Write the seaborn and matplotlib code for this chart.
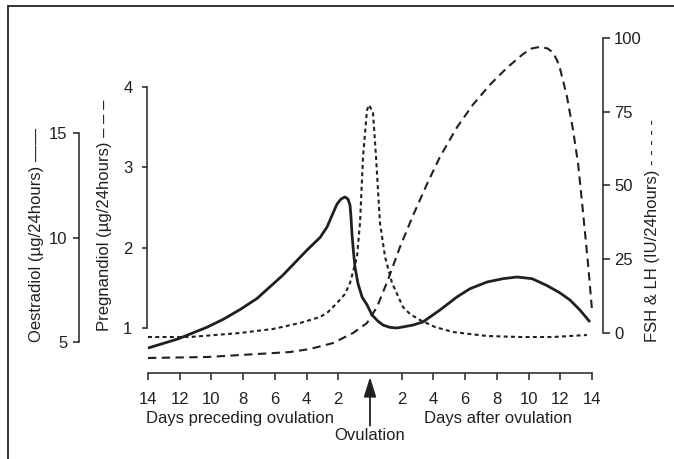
import matplotlib
matplotlib.use('Agg')
import matplotlib.pyplot as plt
from matplotlib.lines import Line2D
import seaborn as sns

# Days relative to ovulation (negative = before ovulation)
oestradiol_days = [-14.0, -12.1, -11.35, -10.3, -9.27, -8.2, -7.13, -5.49, -3.97, -3.15,
                   -2.71, -2.33, -2.08, -1.83, -1.58, -1.39, -1.26, -1.2, -1.14, -1.04,
                   -0.95, -0.76, -0.50, -0.19, 0.13, 0.50, 0.82, 1.26, 1.70, 2.71,
                   3.34, 4.41, 5.49, 6.31, 7.38, 8.39, 9.27, 10.22, 11.16, 11.98,
                   12.61, 13.24, 13.87]
oestradiol = [4.71, 5.15, 5.38, 5.70, 6.08, 6.55, 7.08, 8.20, 9.40, 10.00,
              10.50, 11.17, 11.60, 11.84, 11.94, 11.84, 11.55, 11.00, 10.20, 9.30,
              8.60, 7.80, 7.15, 6.78, 6.29, 6.00, 5.81, 5.70, 5.67, 5.81,
              5.96, 6.53, 7.16, 7.55, 7.87, 8.03, 8.11, 8.03, 7.70, 7.35,
              7.01, 6.53, 5.96]

pregnandiol_days = [-14.0, -10.28, -7.13, -5.04, -3.78, -2.33, -1.07, -0.19, 0.44, 1.13,
                    1.89, 2.71, 3.59, 4.41, 5.49, 6.49, 7.57, 8.64, 9.65, 10.2,
                    10.72, 11.2, 11.54, 11.8, 11.98, 12.2, 12.42, 12.80, 13.12, 13.43,
                    13.75, 14.0]
pregnandiol = [0.627, 0.639, 0.676, 0.701, 0.739, 0.813, 0.938, 1.062, 1.261, 1.598,
               2.008, 2.400, 2.790, 3.130, 3.500, 3.780, 4.030, 4.240, 4.410, 4.480,
               4.500, 4.480, 4.430, 4.330, 4.230, 4.060, 3.880, 3.470, 3.050, 2.450,
               1.800, 1.224]

# FSH & LH
gonad_days = [-14.0, -11.35, -8.20, -6.12, -4.41, -3.15, -2.65, -2.08, -1.58, -1.26,
              -0.82, -0.63, -0.44, -0.19, -0.05, 0.19, 0.38, 0.63, 0.95, 1.39,
              2.08, 2.52, 3.15, 4.10, 5.23, 7.38, 9.46, 11.54, 13.68]
gonad = [-1.36, -1.36, 0.0, 1.36, 3.39, 5.42, 7.10, 10.17, 13.20, 16.95,
         25.76, 37.29, 59.66, 75.59, 77.29, 74.58, 59.66, 37.29, 25.76, 16.95,
         8.81, 6.44, 4.41, 2.03, 0.34, -1.02, -1.36, -1.36, -0.68]

x_ticks = [-14, -12, -10, -8, -6, -4, -2, 2, 4, 6, 8, 10, 12, 14]
x_tick_labels = ['14', '12', '10', '8', '6', '4', '2', '2', '4', '6', '8', '10', '12', '14']
oes_ticks = [5, 10, 15]
preg_ticks = [1, 2, 3, 4]
gonad_ticks = [0, 25, 50, 75, 100]

ink = '#231f20'
sns.set_theme(style='ticks')
plt.rcParams['font.family'] = ['Liberation Sans', 'DejaVu Sans']
plt.rcParams['font.size'] = 12
plt.rcParams['text.color'] = ink
plt.rcParams['xtick.color'] = ink
plt.rcParams['ytick.color'] = ink

W, H = 674, 459
fig = plt.figure(figsize=(W / 100, H / 100), dpi=100)
fig.patch.set_facecolor('white')


def fx(px):
    return px / W


def fy(py):
    return 1 - py / H


ax = fig.add_axes([fx(148), fy(373), (592 - 148) / W, (373 - 30) / H])
ax2 = ax.twinx()
ax3 = ax.twinx()
for a in (ax, ax2, ax3):
    a.set_facecolor('none')
    for s in a.spines.values():
        s.set_visible(False)
        s.set_color(ink)
        s.set_linewidth(1.1)

# curves
sns.lineplot(x=oestradiol_days, y=oestradiol, ax=ax, color=ink, linewidth=2.0,
             estimator=None, sort=False)
sns.lineplot(x=pregnandiol_days, y=pregnandiol, ax=ax2, color=ink, linewidth=1.5,
             estimator=None, sort=False)
ax2.lines[-1].set_linestyle((0, (4.0, 2.6)))
sns.lineplot(x=gonad_days, y=gonad, ax=ax3, color=ink, linewidth=1.5,
             estimator=None, sort=False)
ax3.lines[-1].set_linestyle((0, (1.9, 1.6)))
for a in (ax, ax2, ax3):
    for ln in a.lines:
        ln.set_clip_on(False)
        ln.set_solid_capstyle('butt')
        ln.set_solid_joinstyle('round')

ax.set_xlim(-14, 14)
ax.set_ylim(3.517, 19.928)
ax2.set_ylim(0.440, 4.710)
ax3.set_ylim(-13.56, 102.7)

# x axis
ax.spines['bottom'].set_visible(True)
ax.spines['bottom'].set_bounds(-14, 14)
ax.set_xticks(x_ticks, x_tick_labels)
ax.tick_params(axis='x', direction='out', length=5, width=1.1, pad=9, labelsize=12)

# oestradiol axis
ax.spines['left'].set_visible(True)
ax.spines['left'].set_position(('axes', (79 - 148) / 444))
ax.spines['left'].set_bounds(5, 15)
ax.set_yticks(oes_ticks)
ax.tick_params(axis='y', direction='out', length=4.5, width=1.1, pad=4, labelsize=12)

# pregnandiol axis
ax2.yaxis.tick_left()
ax2.spines['left'].set_visible(True)
ax2.spines['left'].set_position(('axes', -1 / 444))
ax2.spines['left'].set_bounds(1, 4)
ax2.set_yticks(preg_ticks)
ax2.tick_params(axis='y', direction='out', length=3.5, width=1.1, pad=7, labelsize=12)

# FSH & LH axis
ax3.spines['right'].set_visible(True)
ax3.spines['right'].set_position(('axes', (603 - 148) / 444))
ax3.spines['right'].set_bounds(0, 100)
ax3.set_yticks(gonad_ticks)
ax3.tick_params(axis='y', direction='out', length=5, width=1.1, pad=3, labelsize=12)

for a in (ax, ax2, ax3):
    a.set_xlabel('')
    a.set_ylabel('')

# axis titles with line keys
fig.text(fx(37), fy(235), 'Oestradiol (µg/24hours) ——', rotation=90,
         ha='center', va='center', fontsize=12)
fig.text(fx(104), fy(215), 'Pregnandiol (µg/24hours) – – –', rotation=90,
         ha='center', va='center', fontsize=12)
fig.text(fx(652), fy(230), 'FSH & LH (IU/24hours) - - - - -', rotation=90,
         ha='center', va='center', fontsize=12)

fig.text(fx(240), fy(419), 'Days preceding ovulation', ha='center', va='center', fontsize=12)
fig.text(fx(498), fy(419), 'Days after ovulation', ha='center', va='center', fontsize=12)
fig.text(fx(370), fy(436), 'Ovulation', ha='center', va='center', fontsize=12)

ax.annotate('', xy=(0, -4 / 343), xycoords=('data', 'axes fraction'),
            xytext=(0, -35), textcoords='offset points', annotation_clip=False,
            arrowprops=dict(arrowstyle='-|>,head_length=0.8,head_width=0.25',
                            mutation_scale=15, color=ink, lw=1.3,
                            shrinkA=0, shrinkB=0))

# frame of the original figure (top and left only)
fig.add_artist(Line2D([fx(8), fx(8)], [0, fy(6)], color='#333333', lw=1.4))
fig.add_artist(Line2D([fx(8), 1], [fy(6), fy(6)], color='#333333', lw=1.4))

fig.savefig('out.png', dpi=100)
plt.close(fig)
